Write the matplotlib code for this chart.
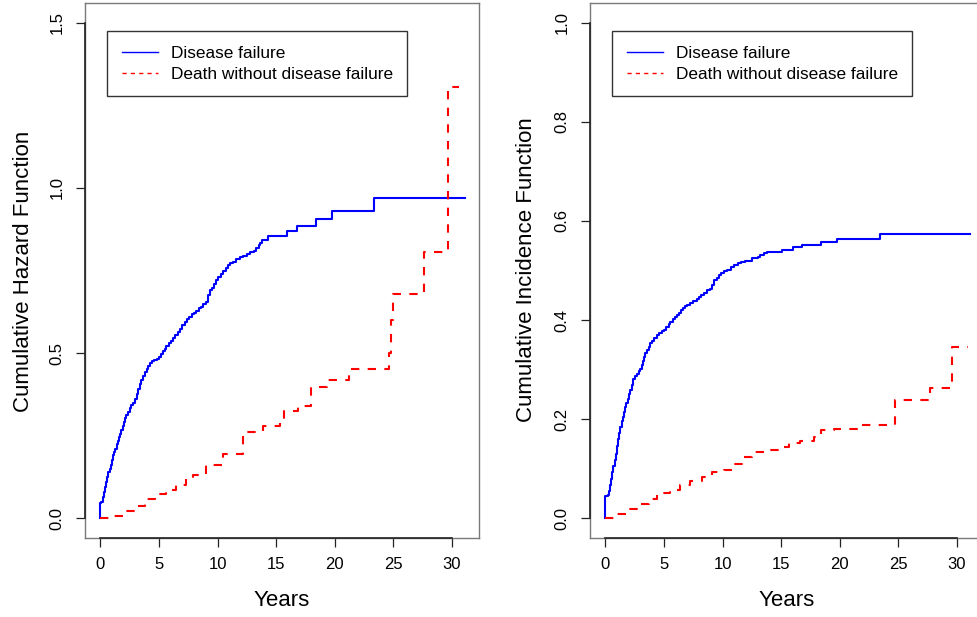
import matplotlib
matplotlib.use("Agg")
import matplotlib.pyplot as plt
from matplotlib.lines import Line2D
import matplotlib.transforms as mtransforms

plt.rcParams['font.family'] = ['Liberation Sans', 'DejaVu Sans']

# ---------------- data ----------------
haz_dis_t = [0, 0, 0.1, 0.2, 0.3, 0.4, 0.5, 0.6, 0.7, 0.8, 0.9, 1.0, 1.1, 1.2, 1.3, 1.4, 1.5,
             1.6, 1.7, 1.8, 1.9, 2.0, 2.1, 2.2, 2.35, 2.5, 2.65, 2.8, 2.95, 3.1, 3.2, 3.35,
             3.5, 3.65, 3.8, 3.95, 4.1, 4.25, 4.4, 4.6, 4.8, 5.0, 5.2, 5.35, 5.5, 5.65, 5.85,
             6.0, 6.2, 6.4, 6.6, 6.8, 7.0, 7.2, 7.4, 7.6, 7.8, 8.0, 8.2, 8.4, 8.6, 8.8, 9.0,
             9.2, 9.35, 9.5, 9.7, 9.9, 10.05, 10.3, 10.5, 10.7, 10.9, 11.1, 11.3, 11.6, 11.9,
             12.2, 12.5, 12.8, 13.1, 13.3, 13.5, 13.6, 13.76, 14.3, 15.95, 16.75, 18.4, 19.8,
             23.36, 31.1]
haz_dis_v = [0, 0.045, 0.05, 0.065, 0.08, 0.095, 0.11, 0.125, 0.14, 0.15, 0.16, 0.175, 0.19,
             0.2, 0.21, 0.225, 0.235, 0.245, 0.255, 0.268, 0.28, 0.292, 0.303, 0.312, 0.322,
             0.334, 0.342, 0.35, 0.36, 0.375, 0.39, 0.405, 0.418, 0.43, 0.443, 0.452, 0.462,
             0.47, 0.475, 0.478, 0.483, 0.488, 0.497, 0.505, 0.513, 0.52, 0.53, 0.538, 0.546,
             0.556, 0.565, 0.572, 0.585, 0.595, 0.603, 0.61, 0.617, 0.622, 0.628, 0.635, 0.64,
             0.648, 0.655, 0.675, 0.69, 0.697, 0.708, 0.72, 0.73, 0.738, 0.75, 0.758, 0.766,
             0.772, 0.776, 0.784, 0.79, 0.795, 0.80, 0.805, 0.81, 0.818, 0.826, 0.833, 0.841,
             0.855, 0.869, 0.885, 0.905, 0.929, 0.97, 0.97]

haz_death_t = [0, 0.94, 2.08, 2.93, 3.79, 4.64, 5.64, 6.5, 7.35, 7.9, 9.0, 10.5, 12.2, 13.9,
               15.3, 15.7, 16.9, 18.0, 19.3, 21.2, 24.6, 24.8, 25.0, 27.6, 29.66, 30.6]
haz_death_v = [0, 0.008, 0.023, 0.038, 0.059, 0.074, 0.084, 0.099, 0.12, 0.131, 0.16, 0.195,
               0.261, 0.28, 0.30, 0.326, 0.341, 0.397, 0.419, 0.453, 0.50, 0.60, 0.68, 0.806,
               1.305, 1.305]

cif_dis_t = [0, 0, 0.2, 0.3, 0.4, 0.5, 0.6, 0.7, 0.8, 0.9, 1.0, 1.1, 1.2, 1.3, 1.4, 1.5, 1.6,
             1.7, 1.8, 1.9, 2.0, 2.13, 2.25, 2.4, 2.55, 2.7, 2.85, 3.0, 3.1, 3.2, 3.3, 3.4,
             3.55, 3.7, 3.85, 4.0, 4.2, 4.4, 4.6, 4.8, 5.0, 5.2, 5.4, 5.55, 5.75, 5.95, 6.1,
             6.26, 6.45, 6.65, 6.8, 6.97, 7.2, 7.5, 7.8, 8.0, 8.2, 8.45, 8.7, 8.9, 9.1, 9.24,
             9.5, 9.7, 9.9, 10.1, 10.4, 10.7, 10.95, 11.3, 11.6, 11.95, 12.5, 13.0, 13.2, 13.5,
             13.8, 15.1, 16.0, 16.8, 18.4, 19.8, 23.4, 31.1]
cif_dis_v = [0, 0.044, 0.046, 0.055, 0.068, 0.08, 0.093, 0.105, 0.117, 0.13, 0.145, 0.16,
             0.172, 0.185, 0.196, 0.205, 0.215, 0.224, 0.232, 0.24, 0.25, 0.259, 0.268, 0.28,
             0.287, 0.292, 0.297, 0.302, 0.31, 0.318, 0.326, 0.333, 0.34, 0.346, 0.353, 0.358,
             0.364, 0.37, 0.374, 0.377, 0.38, 0.386, 0.392, 0.397, 0.402, 0.407, 0.411, 0.415,
             0.42, 0.424, 0.428, 0.431, 0.435, 0.439, 0.442, 0.447, 0.451, 0.455, 0.46, 0.463,
             0.47, 0.481, 0.485, 0.49, 0.494, 0.498, 0.502, 0.507, 0.512, 0.515, 0.518, 0.52,
             0.525, 0.528, 0.532, 0.535, 0.538, 0.542, 0.547, 0.551, 0.557, 0.563, 0.574, 0.574]

cif_death_t = [0, 1.0, 1.85, 2.84, 3.7, 4.4, 5.55, 6.4, 7.25, 8.25, 9.1, 10.1, 10.95, 11.8,
               12.5, 13.8, 14.8, 15.65, 16.6, 17.8, 18.4, 19.5, 21.5, 24.75, 27.7, 29.6, 30.9]
cif_death_v = [0, 0.009, 0.019, 0.029, 0.039, 0.051, 0.056, 0.066, 0.076, 0.083, 0.093, 0.098,
               0.11, 0.123, 0.134, 0.138, 0.144, 0.152, 0.156, 0.164, 0.178, 0.181, 0.189,
               0.238, 0.262, 0.346, 0.346]

x_ticks = [0, 5, 10, 15, 20, 25, 30]
haz_y_ticks = [0.0, 0.5, 1.0, 1.5]
cif_y_ticks = [0.0, 0.2, 0.4, 0.6, 0.8, 1.0]
legend_labels = ["Disease failure", "Death without disease failure"]
ylabels = ["Cumulative Hazard Function", "Cumulative Incidence Function"]
xlabel = "Years"

# ---------------- figure ----------------
W, H = 978, 617
fig = plt.figure(figsize=(W / 100, H / 100), dpi=100)

def px_axes(x0, y0, x1, y1):
    return fig.add_axes([x0 / W, 1 - y1 / H, (x1 - x0) / W, (y1 - y0) / H])

axL = px_axes(85, 3, 479, 538)
axR = px_axes(590, 3, 984, 538)

BLUE = '#0000FF'
RED = '#FF0000'

panels = [
    (axL, haz_dis_t, haz_dis_v, haz_death_t, haz_death_v, haz_y_ticks, (-0.06, 1.56),
     ['0.0', '0.5', '1.0', '1.5'], 107),
    (axR, cif_dis_t, cif_dis_v, cif_death_t, cif_death_v, cif_y_ticks, (-0.04, 1.04),
     ['0.0', '0.2', '0.4', '0.6', '0.8', '1.0'], 612),
]

for ax, t1, v1, t2, v2, yt, ylim, ytl, legx in panels:
    ax.step(t1, v1, where='post', color=BLUE, lw=1.5)
    ax.step(t2, v2, where='post', color=RED, lw=1.5, linestyle=(0, (4, 4)))
    ax.set_xlim(-1.3, 32.3)
    ax.set_ylim(*ylim)
    ax.set_xticks(x_ticks)
    ax.set_xticklabels([str(v) for v in x_ticks])
    ax.set_yticks(yt)
    ax.set_yticklabels(ytl, rotation=90, va='center')
    ax.tick_params(axis='both', length=6.8, width=0.9, color='#222222', labelsize=12)
    ax.tick_params(axis='x', pad=7)
    ax.tick_params(axis='y', pad=8)
    for s in ax.spines.values():
        s.set_color('#7a7a7a')
        s.set_linewidth(1.0)
    # black axis lines over the tick range (R style)
    tb = mtransforms.blended_transform_factory(ax.transData, ax.transAxes)
    ax.plot([x_ticks[0], x_ticks[-1]], [0, 0], transform=tb, color='#222222', lw=1.2,
            clip_on=False, zorder=5)
    tl = mtransforms.blended_transform_factory(ax.transAxes, ax.transData)
    ax.plot([0, 0], [yt[0], yt[-1]], transform=tl, color='#222222', lw=1.2,
            clip_on=False, zorder=5)

    handles = [Line2D([], [], color=BLUE, lw=1.0),
               Line2D([], [], color=RED, lw=1.0, linestyle=(0, (3, 3)))]
    leg = ax.legend(handles, legend_labels, loc='upper left',
                    bbox_to_anchor=((legx - 85) / 394 if ax is axL else (legx - 590) / 394,
                                    (538 - 31) / 535),
                    borderaxespad=0, fontsize=12.4, frameon=True, fancybox=False,
                    edgecolor='black', handlelength=2.1, handletextpad=0.75,
                    borderpad=0.85, labelspacing=0.35)
    leg.get_frame().set_linewidth(1.0)

fig.text(24 / W, 1 - 271 / H, ylabels[0], rotation=90, ha='center', va='center', fontsize=16)
fig.text(527 / W, 1 - 270 / H, ylabels[1], rotation=90, ha='center', va='center', fontsize=16)
fig.text(282 / W, 1 - 600 / H, xlabel, ha='center', va='center', fontsize=16)
fig.text(787 / W, 1 - 600 / H, xlabel, ha='center', va='center', fontsize=16)

fig.savefig('out.png', dpi=100)
